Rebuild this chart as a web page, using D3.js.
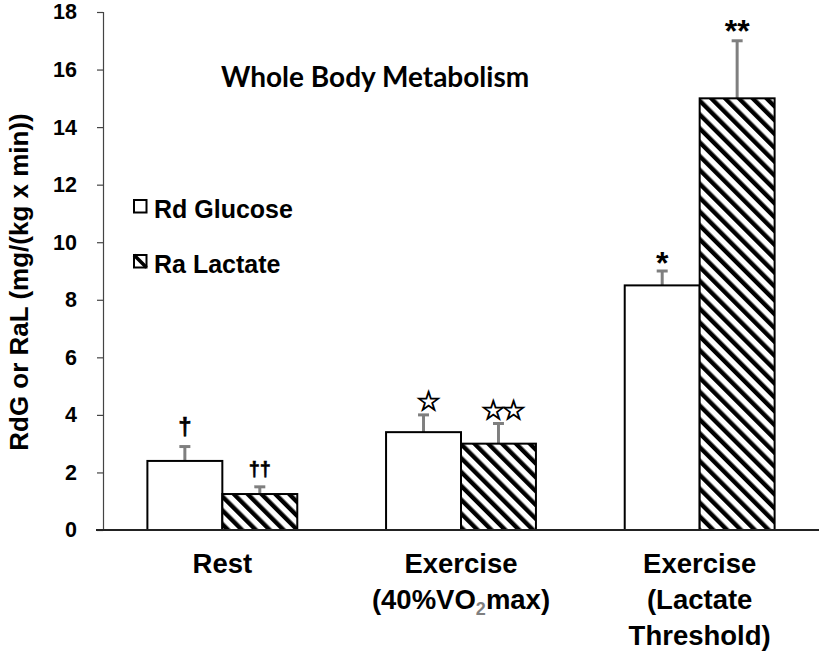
<!DOCTYPE html>
<html><head><meta charset="utf-8">
<script src="https://cdn.jsdelivr.net/npm/d3@7"></script>
<style>body{margin:0;background:#fff}</style>
</head><body>
<svg id="chart" width="819" height="654"></svg>
<script>
// ---- data ----
const categories = ["Rest", "Exercise (40%VO2max)", "Exercise (Lactate Threshold)"];
const categoryLines = [["Rest"], ["Exercise", "(40%VO{2}max)"], ["Exercise", "(Lactate", "Threshold)"]];
const seriesNames = ["Rd Glucose", "Ra Lactate"];
const rdGlucose = [2.4, 3.4, 8.5];
const raLactate = [1.25, 3.0, 15.0];
const rdGlucoseErr = [0.5, 0.6, 0.5];
const raLactateErr = [0.25, 0.7, 2.0];
const rdGlucoseMarks = ["†", "☆", "*"];
const raLactateMarks = ["††", "☆☆", "**"];
const yTicks = [0, 2, 4, 6, 8, 10, 12, 14, 16, 18];
const titleText = "Whole Body Metabolism";
const yLabelText = "RdG or RaL (mg/(kg x min))";

// ---- layout ----
const svg = d3.select("#chart");
const FONT = "'Liberation Sans', Arial, sans-serif";
const x = d3.scaleBand().domain(categories).range([103, 819]).padding(0);
const y = d3.scaleLinear().domain([0, 18]).range([530, 12]);
const bw = x.bandwidth() * 0.314;

const defs = svg.append("defs");
const pat = defs.append("pattern").attr("id", "hatch")
  .attr("patternUnits", "userSpaceOnUse").attr("width", 9.8).attr("height", 9.8)
  .attr("patternTransform", "rotate(-45)");
pat.append("rect").attr("width", 9.8).attr("height", 9.8).attr("fill", "#fff");
pat.append("rect").attr("width", 4.4).attr("height", 9.8).attr("fill", "#000");

// y axis
const yAxis = svg.append("g").attr("transform", "translate(103,0)")
  .call(d3.axisLeft(y).tickValues(yTicks).tickSize(6).tickPadding(20).tickFormat(d3.format("d")));
yAxis.select(".domain").attr("stroke", "#444").attr("stroke-width", 1.2);
yAxis.selectAll(".tick line").attr("stroke", "#444").attr("stroke-width", 1.2);
yAxis.selectAll(".tick text").attr("font-family", FONT).attr("font-weight", "bold")
  .attr("font-size", 21.5).attr("fill", "#000");

// series
const series = [
  {name: seriesNames[0], values: rdGlucose, err: rdGlucoseErr, marks: rdGlucoseMarks, fill: "#fff", off: -bw},
  {name: seriesNames[1], values: raLactate, err: raLactateErr, marks: raLactateMarks, fill: "url(#hatch)", off: 0}
];

function markStyle(m, si) {
  if (m.indexOf("☆") >= 0) return {font: "'DejaVu Sans', sans-serif", weight: "normal", size: 28, gap: 4, ls: -5, stroke: 0.9};
  if (m.indexOf("*") >= 0) return {font: FONT, weight: "bold", size: 32, gap: si === 0 ? -3 : -1, ls: 0, stroke: 0};
  return {font: FONT, weight: "bold", size: si === 0 ? 24 : 20, gap: si === 0 ? 12 : 11, ls: 0, stroke: 0.6};
}

series.forEach((s, si) => {
  const g = svg.append("g");
  categories.forEach((c, i) => {
    const cx = x(c) + x.bandwidth() / 2 + s.off;
    const v = s.values[i], e = s.err[i];
    const midX = cx + bw / 2;
    // error bar
    g.append("line").attr("x1", midX).attr("x2", midX).attr("y1", y(v)).attr("y2", y(v + e))
      .attr("stroke", "#7f7f7f").attr("stroke-width", 3);
    g.append("line").attr("x1", midX - 5.5).attr("x2", midX + 5.5).attr("y1", y(v + e)).attr("y2", y(v + e))
      .attr("stroke", "#7f7f7f").attr("stroke-width", 3);
    // bar
    g.append("rect").attr("x", cx).attr("y", y(v)).attr("width", bw).attr("height", y(0) - y(v))
      .attr("fill", s.fill).attr("stroke", "#000").attr("stroke-width", 2);
    // annotation
    const m = s.marks[i];
    const st = markStyle(m, si);
    g.append("text").attr("x", midX + (st.ls ? -st.ls / 2 : 0)).attr("y", y(v + e) - st.gap)
      .attr("text-anchor", "middle")
      .attr("font-family", st.font).attr("font-weight", st.weight).attr("font-size", st.size)
      .attr("letter-spacing", st.ls)
      .attr("fill", "#000").attr("stroke", "#000").attr("stroke-width", st.stroke).text(m);
  });
});

// x baseline
svg.append("line").attr("x1", 96).attr("x2", 819).attr("y1", y(0)).attr("y2", y(0))
  .attr("stroke", "#222").attr("stroke-width", 2);

// x category labels
categories.forEach((c, i) => {
  const t = svg.append("text").attr("text-anchor", "middle")
    .attr("font-family", FONT).attr("font-weight", "bold").attr("font-size", 27.5).attr("fill", "#000");
  categoryLines[i].forEach((line, j) => {
    const base = t.append("tspan").attr("x", x(c) + x.bandwidth() / 2).attr("y", 573 + j * 36);
    const parts = line.split(/(\{[^}]*\})/).filter(p => p.length);
    let first = true;
    parts.forEach(p => {
      const sp = first ? base : t.append("tspan");
      if (p.startsWith("{")) {
        sp.text(p.slice(1, -1)).attr("font-size", 18).attr("dy", 6).attr("fill", "#7f7f7f");
      } else {
        sp.text(p);
        if (!first) sp.attr("dy", -6);
      }
      first = false;
    });
  });
});

// title
svg.append("text").attr("x", 221).attr("y", 87).attr("text-anchor", "start")
  .attr("font-family", "Lato, 'Open Sans', sans-serif").attr("font-weight", "bold")
  .attr("font-size", 28).attr("fill", "#000").text(titleText);

// y label
svg.append("text").attr("transform", "translate(28,282) rotate(-90)").attr("text-anchor", "middle")
  .attr("font-family", FONT).attr("font-weight", "bold").attr("font-size", 26).attr("fill", "#000")
  .text(yLabelText);

// legend
const legend = svg.append("g");
seriesNames.forEach((n, i) => {
  const ly = 200 + i * 55;
  legend.append("rect").attr("x", 134).attr("y", ly).attr("width", 12.5).attr("height", 12.5)
    .attr("fill", "#fff").attr("stroke", "#000").attr("stroke-width", 2);
  if (i === 1) {
    legend.append("line").attr("x1", 134).attr("y1", ly).attr("x2", 146.5).attr("y2", ly + 12.5)
      .attr("stroke", "#000").attr("stroke-width", 3.5);
  }
  legend.append("text").attr("x", 154).attr("y", ly + 17.5)
    .attr("font-family", FONT).attr("font-weight", "bold").attr("font-size", 25).attr("fill", "#000").text(n);
});
</script>
</body></html>
